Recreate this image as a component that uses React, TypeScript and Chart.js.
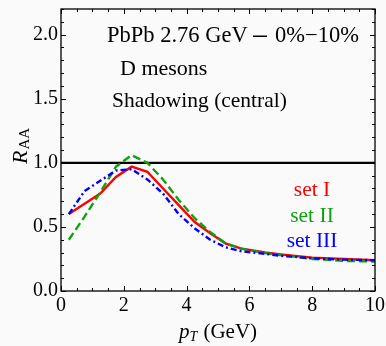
import React, { useEffect, useRef } from 'react';
import { Chart, registerables } from 'chart.js';

Chart.register(...registerables);

const pT = [0.25, 0.75, 1.25, 1.75, 2.25, 2.75, 3.25, 3.75, 4.25, 4.75, 5.25, 5.75, 6.5, 7, 8, 9, 10];
const setI = [0.6, 0.68, 0.76, 0.89, 0.97, 0.93, 0.8, 0.67, 0.54, 0.45, 0.37, 0.33, 0.3, 0.285, 0.26, 0.25, 0.24];
const setII = [0.4, 0.58, 0.77, 0.97, 1.06, 1.0, 0.87, 0.71, 0.57, 0.46, 0.37, 0.33, 0.295, 0.28, 0.25, 0.235, 0.23];
const setIII = [0.6, 0.78, 0.86, 0.94, 0.95, 0.87, 0.76, 0.6, 0.49, 0.4, 0.34, 0.31, 0.29, 0.275, 0.255, 0.245, 0.24];
const refLine = [1.0, 1.0];
const refX = [0, 10];

const xTicks = [0, 2, 4, 6, 8, 10];
const yTicks = [0, 0.5, 1.0, 1.5, 2.0];
const xMinorStep = 0.5;
const yMinorStep = 0.1;
const seriesLabels = ['set I', 'set II', 'set III'];
const infoHead = 'PbPb 2.76 GeV';
const infoRange = '0%\u221210%';
const infoLines = ['D mesons', 'Shadowing (central)'];

const SERIF = '"Liberation Serif", "DejaVu Serif", serif';
const RED = '#ff0000';
const GREEN = '#10a010';
const BLUE = '#0000ff';

const framePlugin = {
  id: 'frame',
  beforeDraw(chart: any) {
    const ctx = chart.ctx;
    ctx.save();
    ctx.fillStyle = '#fafafa';
    ctx.fillRect(0, 0, chart.width, chart.height);
    ctx.restore();
  },
  afterDraw(chart: any) {
    const ctx = chart.ctx;
    const a = chart.chartArea;
    const xs = chart.scales.x;
    const ys = chart.scales.y;
    ctx.save();
    ctx.strokeStyle = '#000';
    ctx.lineWidth = 1.3;
    ctx.strokeRect(a.left, a.top, a.right - a.left, a.bottom - a.top);
    ctx.lineWidth = 1;
    for (let i = 0; xs.min + i * xMinorStep <= xs.max + 1e-9; i++) {
      const v = xs.min + i * xMinorStep;
      const major = xTicks.some((t) => Math.abs(t - v) < 1e-6);
      const len = major ? 5 : 3;
      const px = Math.round(xs.getPixelForValue(v)) + 0.5;
      ctx.beginPath();
      ctx.moveTo(px, a.bottom);
      ctx.lineTo(px, a.bottom - len);
      ctx.moveTo(px, a.top);
      ctx.lineTo(px, a.top + len);
      ctx.stroke();
    }
    for (let i = 0; ys.min + i * yMinorStep <= ys.max + 1e-9; i++) {
      const v = ys.min + i * yMinorStep;
      const major = yTicks.some((t) => Math.abs(t - v) < 1e-6);
      const len = major ? 5 : 3;
      const py = Math.round(ys.getPixelForValue(v)) + 0.5;
      ctx.beginPath();
      ctx.moveTo(a.left, py);
      ctx.lineTo(a.left + len, py);
      ctx.moveTo(a.right, py);
      ctx.lineTo(a.right - len, py);
      ctx.stroke();
    }

    // info text
    ctx.fillStyle = '#000';
    ctx.textBaseline = 'alphabetic';
    ctx.textAlign = 'left';
    ctx.font = `22.5px ${SERIF}`;
    ctx.fillText(infoHead, a.left + 46, a.top + 33);
    ctx.fillRect(a.left + 192, a.top + 26.5, 14, 1.5);
    ctx.textAlign = 'right';
    ctx.fillText(infoRange, a.left + 298, a.top + 33);
    ctx.textAlign = 'left';
    ctx.font = `22px ${SERIF}`;
    ctx.fillText(infoLines[0], a.left + 59, a.top + 66);
    ctx.font = `21.5px ${SERIF}`;
    ctx.fillText(infoLines[1], a.left + 51, a.top + 98);

    // series labels
    const colors = [RED, GREEN, BLUE];
    ctx.textAlign = 'center';
    ctx.font = `21.5px ${SERIF}`;
    const ly = [a.top + 187, a.top + 213, a.top + 238];
    seriesLabels.forEach((s, i) => {
      ctx.fillStyle = colors[i];
      ctx.fillText(s, a.left + 251, ly[i]);
    });

    // y title: R_AA rotated
    ctx.fillStyle = '#000';
    ctx.save();
    ctx.translate(27, a.top + 155);
    ctx.rotate(-Math.PI / 2);
    ctx.textAlign = 'left';
    ctx.font = `italic 22px ${SERIF}`;
    ctx.fillText('R', 0, 0);
    const rw = ctx.measureText('R').width;
    ctx.font = `15px ${SERIF}`;
    ctx.fillText('AA', rw + 1, 2);
    ctx.restore();

    // x title: p_T (GeV)
    ctx.textAlign = 'left';
    ctx.font = `italic 21px ${SERIF}`;
    const pw = ctx.measureText('p').width;
    ctx.font = `italic 14px ${SERIF}`;
    const tw = ctx.measureText('T').width;
    ctx.font = `21px ${SERIF}`;
    const gw = ctx.measureText(' (GeV)').width;
    const total = pw + tw + 1 + gw;
    const cx = (a.left + a.right) / 2;
    const x0 = cx - total / 2;
    const base = chart.height - 8;
    ctx.font = `italic 21px ${SERIF}`;
    ctx.fillText('p', x0, base);
    ctx.font = `italic 14px ${SERIF}`;
    ctx.fillText('T', x0 + pw, base + 3);
    ctx.font = `21px ${SERIF}`;
    ctx.fillText(' (GeV)', x0 + pw + tw + 1, base);
    ctx.restore();
  },
};

export default function App() {
  const ref = useRef<HTMLCanvasElement | null>(null);
  useEffect(() => {
    if (!ref.current) return;
    const mk = (ys: number[]) => pT.map((x, i) => ({ x, y: ys[i] }));
    const chart = new Chart(ref.current, {
      type: 'line',
      data: {
        datasets: [
          {
            label: 'ref',
            data: refX.map((x, i) => ({ x, y: refLine[i] })),
            borderColor: '#000',
            borderWidth: 2.2,
            pointRadius: 0,
            order: 10,
          },
          {
            label: seriesLabels[0],
            data: mk(setI),
            borderColor: RED,
            borderWidth: 2.4,
            pointRadius: 0,
            tension: 0,
            order: 3,
          },
          {
            label: seriesLabels[1],
            data: mk(setII),
            borderColor: GREEN,
            borderWidth: 2.4,
            borderDash: [8, 4],
            pointRadius: 0,
            tension: 0,
            order: 2,
          },
          {
            label: seriesLabels[2],
            data: mk(setIII),
            borderColor: BLUE,
            borderWidth: 2.4,
            borderDash: [6, 3, 2, 3],
            pointRadius: 0,
            tension: 0,
            order: 1,
          },
        ],
      },
      options: {
        animation: false,
        responsive: false,
        events: [],
        layout: { padding: { top: 9, right: 11, left: 0, bottom: 0 } },
        plugins: { legend: { display: false }, tooltip: { enabled: false } },
        scales: {
          x: {
            type: 'linear',
            min: 0,
            max: 10,
            afterBuildTicks: (s: any) => {
              s.ticks = xTicks.map((v) => ({ value: v }));
            },
            afterFit: (s: any) => {
              s.height = 55;
              s.paddingLeft = 0;
              s.paddingRight = 0;
            },
            grid: { display: false, drawTicks: false },
            border: { display: false },
            ticks: {
              color: '#000',
              font: { family: SERIF, size: 20 },
              padding: 3,
              maxRotation: 0,
              autoSkip: false,
            },
          },
          y: {
            type: 'linear',
            min: 0,
            max: 2.2,
            afterBuildTicks: (s: any) => {
              s.ticks = yTicks.map((v) => ({ value: v }));
            },
            afterFit: (s: any) => {
              s.width = 61;
              s.paddingTop = 0;
              s.paddingBottom = 0;
            },
            grid: { display: false, drawTicks: false },
            border: { display: false },
            ticks: {
              color: '#000',
              font: { family: SERIF, size: 20 },
              padding: 3,
              autoSkip: false,
              callback: (v: any) => Number(v).toFixed(1),
            },
          },
        },
      },
      plugins: [framePlugin],
    } as any);
    return () => chart.destroy();
  }, []);
  return (
    <div style={{ position: 'absolute', left: 0, top: 0, width: 386, height: 346 }}>
      <canvas ref={ref} width={386} height={346} />
    </div>
  );
}
